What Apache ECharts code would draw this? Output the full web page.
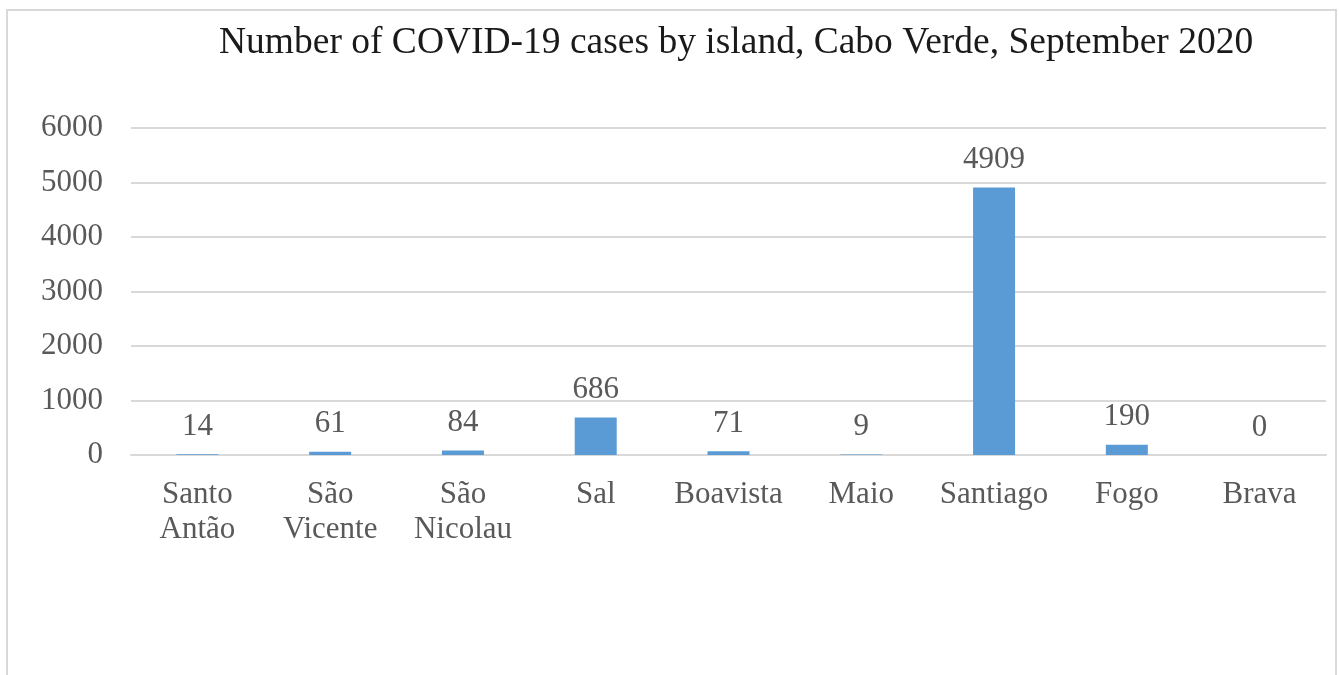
<!DOCTYPE html>
<html>
<head>
<meta charset="utf-8">
<script src="https://cdn.jsdelivr.net/npm/echarts@6/dist/echarts.min.js"></script>
<style>
html,body{margin:0;padding:0;background:#fff;}
#chart{width:1339px;height:675px;}
</style>
</head>
<body>
<div id="chart"></div>
<script>
const titleText = 'Number of COVID-19 cases by island, Cabo Verde, September 2020';
const categories = ['Santo\nAntão', 'São\nVicente', 'São\nNicolau', 'Sal', 'Boavista', 'Maio', 'Santiago', 'Fogo', 'Brava'];
const cases = [14, 61, 84, 686, 71, 9, 4909, 190, 0];
const yTicks = { min: 0, max: 6000, interval: 1000 };

const font = '"Liberation Serif", "Times New Roman", serif';
const chart = echarts.init(document.getElementById('chart'));
chart.setOption({
  backgroundColor: '#ffffff',
  animation: false,
  graphic: [{
    type: 'rect',
    shape: { x: 7, y: 10, width: 1329, height: 700 },
    style: { fill: 'none', stroke: '#d9d9d9', lineWidth: 2 },
    silent: true
  }],
  title: {
    text: titleText,
    left: 214,
    top: 19,
    textStyle: { fontFamily: font, fontSize: 37.5, fontWeight: 'normal', color: '#1a1a1a' }
  },
  grid: { left: 131, right: 13, top: 128, bottom: 220, containLabel: false },
  xAxis: {
    type: 'category',
    data: categories,
    axisLine: { show: true, lineStyle: { color: '#d9d9d9', width: 2 } },
    axisTick: { show: false },
    axisLabel: { fontFamily: font, fontSize: 31, color: '#595959', lineHeight: 35, margin: 22, interval: 0 }
  },
  yAxis: {
    type: 'value',
    min: yTicks.min,
    max: yTicks.max,
    interval: yTicks.interval,
    axisLine: { show: false },
    axisTick: { show: false },
    splitLine: { lineStyle: { color: '#d9d9d9', width: 2 } },
    axisLabel: { fontFamily: font, fontSize: 31, color: '#595959', margin: 28, formatter: v => String(v) }
  },
  series: [{
    type: 'bar',
    data: cases,
    barWidth: 42,
    itemStyle: { color: '#5b9bd5' },
    label: {
      show: true,
      position: 'top',
      distance: 12,
      fontFamily: font,
      fontSize: 31,
      color: '#595959'
    }
  }]
});
</script>
</body>
</html>
